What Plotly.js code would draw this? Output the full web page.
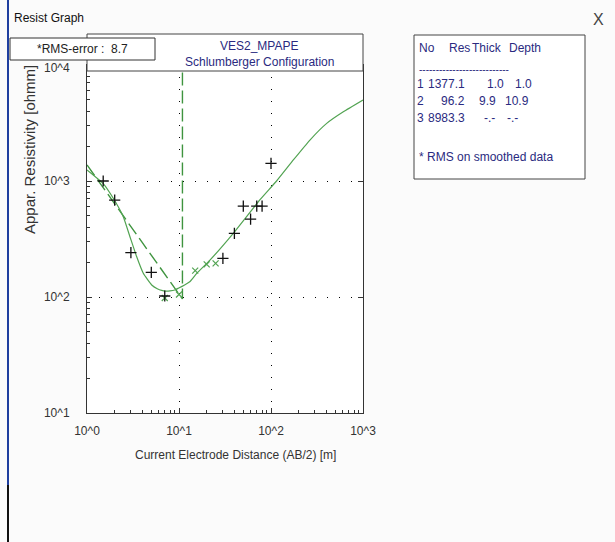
<!DOCTYPE html>
<html>
<head>
<meta charset="utf-8">
<script src="https://cdn.plot.ly/plotly-3.0.1.min.js"></script>
<style>html,body{margin:0;padding:0;background:#fbfbfb;}#chart{width:615px;height:542px;}</style>
</head>
<body>
<div id="chart"></div>
<script>
// ---- data ----
const measuredAB2 = [1.5, 2, 3, 5, 7, 30, 40, 50, 60, 70, 80, 100];
const measuredRho = [1000, 685, 241, 163, 102, 215, 354, 608, 470, 608, 608, 1420];

const smoothedAB2 = [7, 10, 15, 20, 25];
const smoothedRho = [98, 105, 169, 191, 195];

const fitAB2 = [1, 1.5, 1.93, 2.48, 2.93, 3.47, 4.09, 5.05, 5.8, 6.48, 7.2, 7.98, 9.0, 9.83, 11.5, 13.2, 15.6, 21.7, 38.9, 76, 115, 175, 265, 403, 611, 1000];
const fitRho = [1245, 950, 710, 492, 331, 222, 160, 127, 118, 114, 112.5, 113, 115, 119, 127, 136, 160, 208, 354, 690, 1000, 1518, 2255, 3140, 3950, 4990];

const modelX = [1.0, 10.9, 10.9, 1000];
const modelY = [1377.1, 96.2, 8983.3, 8983.3];

const layerNo = ['1', '2', '3'];
const layerRes = ['1377.1', '96.2', '8983.3'];
const layerThick = ['1.0', '9.9', '-.-'];
const layerDepth = ['1.0', '10.9', '-.-'];

const xTickVals = [1, 10, 100, 1000];
const xTickText = ['10^0', '10^1', '10^2', '10^3'];
const yTickVals = [10, 100, 1000];
const yTickText = ['10^1', '10^2', '10^3'];
const yTopLabel = '10^4';

const rmsError = '8.7';
const chartTitle = ['VES2_MPAPE', 'Schlumberger Configuration'];

// ---- layout helpers ----
const L = 87, R = 363, T = 65, B = 413;
const px = x => (x - L) / (R - L);
const py = y => (B - y) / (B - T);
const FONT = 'Liberation Sans, Arial, sans-serif';
const NAVY = '#2a2a80';
const GREEN = '#52a352';
const DGREEN = '#3f943f';

const minorX = [];
const minorY = [];
[1, 10, 100].forEach(d => { for (let k = 2; k <= 9; k++) minorX.push(k * d); });
[10, 100, 1000].forEach(d => { for (let k = 2; k <= 9; k++) minorY.push(k * d); });

const traces = [
  {x: modelX, y: modelY, mode: 'lines', line: {color: DGREEN, width: 1.4, dash: '13px,5px'}, hoverinfo: 'skip'},
  {x: fitAB2, y: fitRho, mode: 'lines', line: {color: GREEN, width: 1.2, shape: 'spline', smoothing: 0.4}, hoverinfo: 'skip'},
  {x: smoothedAB2, y: smoothedRho, mode: 'markers', marker: {symbol: 'x-thin', size: 6, color: GREEN, line: {color: GREEN, width: 1.2}}},
  {x: measuredAB2, y: measuredRho, mode: 'markers', marker: {symbol: 'cross-thin', size: 8, color: '#111', line: {color: '#111', width: 1.3}}},
  {x: [], y: [], xaxis: 'x2', yaxis: 'y2', mode: 'markers'}
];

const shapes = [
  // title box
  {type: 'rect', xref: 'paper', yref: 'paper', x0: px(87), x1: px(363), y0: py(71), y1: py(34), fillcolor: '#ffffff', line: {color: '#444', width: 1}, layer: 'above'},
  // RMS box
  {type: 'rect', xref: 'paper', yref: 'paper', x0: px(10), x1: px(155), y0: py(60), y1: py(38), fillcolor: '#ffffff', line: {color: '#333', width: 1}, layer: 'above'},
  // table box
  {type: 'rect', xref: 'paper', yref: 'paper', x0: px(414), x1: px(585), y0: py(179), y1: py(35), fillcolor: '#ffffff', line: {color: '#444', width: 1}, layer: 'above'},
  // window left border
  {type: 'line', xref: 'paper', yref: 'paper', x0: px(8), x1: px(8), y0: py(0), y1: py(485), line: {color: '#1f3f9f', width: 2}, layer: 'above'},
  {type: 'line', xref: 'paper', yref: 'paper', x0: px(8), x1: px(8), y0: py(485), y1: py(542), line: {color: '#111', width: 2}, layer: 'above'}
];

const ann = (x, y, text, opts = {}) => Object.assign({
  xref: 'paper', yref: 'paper', x: px(x), y: py(y), text: text, showarrow: false,
  xanchor: 'left', yanchor: 'middle', font: {family: FONT, size: 12, color: NAVY}
}, opts);

const annotations = [
  ann(12, 18, 'Resist Graph', {font: {family: FONT, size: 12, color: '#111'}}),
  ann(598, 19, 'X', {xanchor: 'center', font: {family: FONT, size: 16, color: '#444'}}),
  ann(82, 49, '*RMS-error :\u00a0\u00a0' + rmsError, {xanchor: 'center', font: {family: FONT, size: 12, color: '#222'}}),
  ann(259, 46, chartTitle[0], {xanchor: 'center'}),
  ann(259, 62, chartTitle[1], {xanchor: 'center'}),
  ann(57, 68, yTopLabel, {xanchor: 'center', font: {family: FONT, size: 12, color: '#333'}}),
  ann(29, 150, 'Appar. Resistivity [ohmm]', {xanchor: 'center', textangle: -90, font: {family: FONT, size: 15, color: '#333'}}),
  ann(235, 455, 'Current Electrode Distance (AB/2) [m]', {xanchor: 'center', font: {family: FONT, size: 12, color: '#333'}}),
  // table
  ann(417, 48, 'No'), ann(447, 48, 'Res'), ann(470, 48, 'Thick'), ann(507, 48, 'Depth'),
  ann(417, 69, '-'.repeat(27), {font: {family: FONT, size: 10, color: NAVY}}),
  ann(417, 157, '* RMS on smoothed data')
];
const rowY = [84, 101, 118];
const thickX = [485, 477, 482];
const depthX = [513, 503, 505];
layerNo.forEach((n, i) => {
  annotations.push(ann(415, rowY[i], n));
  annotations.push(ann(467, rowY[i], layerRes[i], {xanchor: 'right'}));
  annotations.push(ann(thickX[i], rowY[i], layerThick[i]));
  annotations.push(ann(depthX[i], rowY[i], layerDepth[i]));
});

const axisCommon = {
  type: 'log', showline: true, linecolor: '#333', linewidth: 1, mirror: true,
  ticks: 'inside', ticklen: 5, tickcolor: '#333', tickwidth: 1,
  showgrid: true, gridcolor: '#000', gridwidth: 1, griddash: '1px,11px',
  zeroline: false, tickmode: 'array',
  tickfont: {family: FONT, size: 12, color: '#333'}
};

const layout = {
  width: 615, height: 542,
  margin: {l: L, r: 615 - R, t: T, b: 542 - B, pad: 0},
  paper_bgcolor: '#fbfbfb', plot_bgcolor: '#ffffff',
  showlegend: false,
  xaxis: Object.assign({}, axisCommon, {
    range: [0, 3], tickvals: xTickVals, ticktext: xTickText, ticklabelstandoff: 7,
    minor: {tickmode: 'array', tickvals: minorX, ticks: 'inside', ticklen: 3, tickcolor: '#333', showgrid: false}
  }),
  yaxis: Object.assign({}, axisCommon, {
    range: [1, 4], tickvals: yTickVals, ticktext: yTickText, ticklabelstandoff: 14,
    minor: {tickmode: 'array', tickvals: minorY, ticks: 'inside', ticklen: 3, tickcolor: '#333', showgrid: false}
  }),
  xaxis2: {type: 'log', overlaying: 'x', side: 'top', anchor: 'y', range: [0, 3], tickmode: 'array', tickvals: [10, 100],
    ticks: 'inside', ticklen: 5, tickcolor: '#333', showticklabels: false, showgrid: false, showline: false, zeroline: false},
  yaxis2: {type: 'log', overlaying: 'y', side: 'right', anchor: 'x', range: [1, 4], tickmode: 'array', tickvals: [100, 1000],
    ticks: 'inside', ticklen: 5, tickcolor: '#333', showticklabels: false, showgrid: false, showline: false, zeroline: false},
  shapes: shapes,
  annotations: annotations,
  font: {family: FONT}
};

Plotly.newPlot('chart', traces, layout, {displayModeBar: false, staticPlot: true});
</script>
</body>
</html>
